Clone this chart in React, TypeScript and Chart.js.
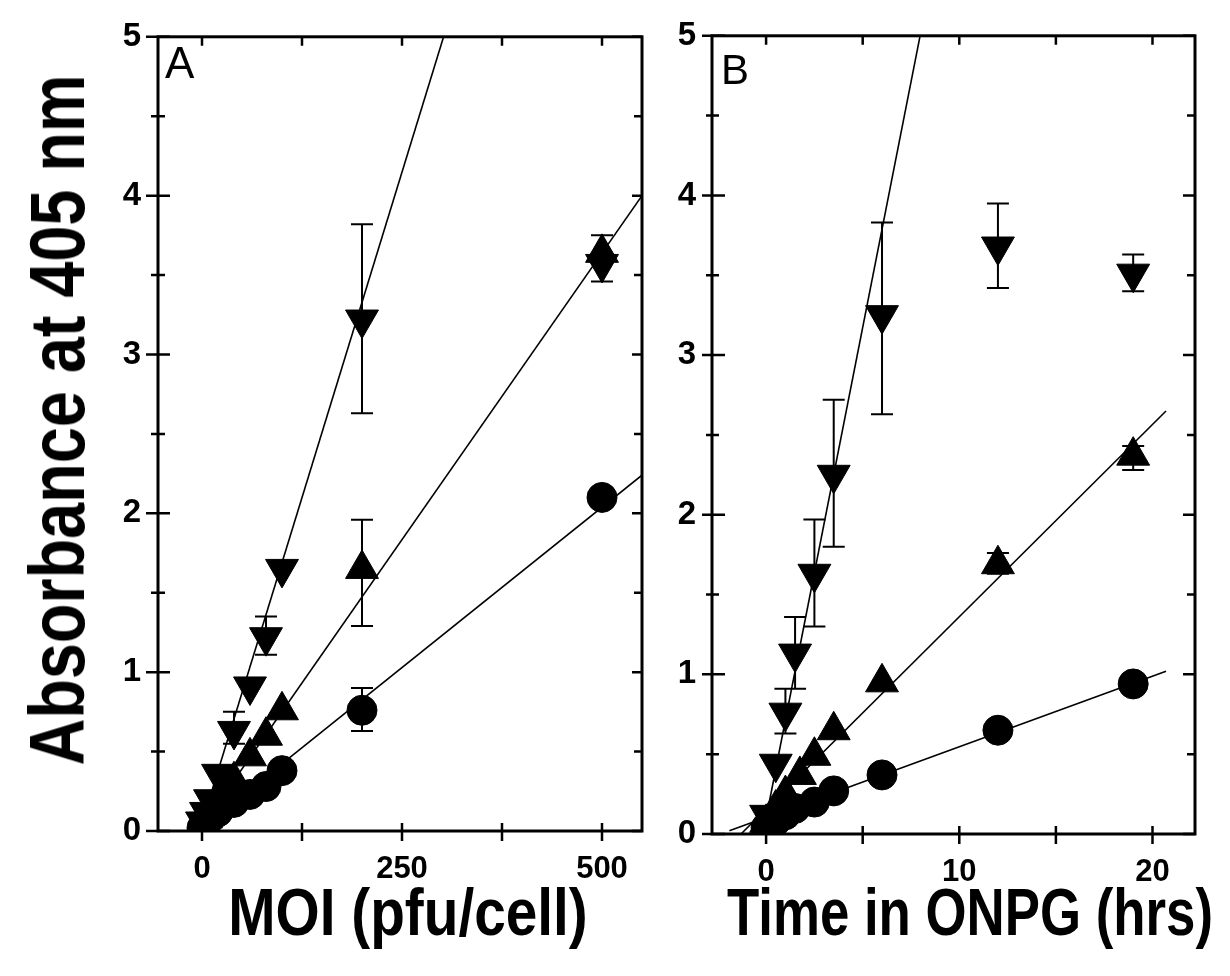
import React, { useEffect, useRef } from "react";
import { Chart, registerables } from "chart.js";

Chart.register(...registerables);

// ---------- Panel A : MOI (pfu/cell) ----------
const moiA = [0, 5, 10, 20, 40, 60, 80, 100, 200, 500];
const downA = [0.06, 0.12, 0.2, 0.36, 0.63, 0.91, 1.22, 1.65, 3.22, 3.57];
const upA = [0.04, 0.08, 0.12, 0.2, 0.32, 0.47, 0.6, 0.76, 1.65, 3.64];
const circleA = [0.02, 0.05, 0.08, 0.12, 0.18, 0.23, 0.28, 0.38, 0.76, 2.1];

const fitDownAx = [0, 302];
const fitDownAy = [0.05, 5];
const fitUpAx = [0, 550];
const fitUpAy = [0.03, 4.0];
const fitCircleAx = [0, 550];
const fitCircleAy = [0.02, 2.24];

const errAx = [40, 80, 200, 500, 200, 200];
const errAlo = [0.55, 1.11, 2.63, 3.46, 1.29, 0.63];
const errAhi = [0.75, 1.35, 3.82, 3.75, 1.96, 0.9];

const xTicksA = [0, 125, 250, 375, 500];
const xLabelsA = [0, 250, 500];

// ---------- Panel B : Time in ONPG (hrs) ----------
const timeDownB = [0, 0.5, 1, 1.5, 2.5, 3.5, 6, 12, 19];
const downB = [0.12, 0.44, 0.76, 1.13, 1.63, 2.25, 3.25, 3.68, 3.51];
const timeUpB = [0, 0.5, 1, 1.75, 2.5, 3.5, 6, 12, 19];
const upB = [0.07, 0.16, 0.25, 0.37, 0.49, 0.65, 0.95, 1.69, 2.37];
const timeCircleB = [0, 0.5, 1, 1.5, 2.5, 3.5, 6, 12, 19];
const circleB = [0.04, 0.08, 0.12, 0.16, 0.2, 0.27, 0.37, 0.65, 0.94];

const fitDownBx = [-0.16, 7.97];
const fitDownBy = [0, 5];
const fitUpBx = [-1.3, 20.7];
const fitUpBy = [0, 2.65];
const fitCircleBx = [-1.9, 20.7];
const fitCircleBy = [0.02, 1.02];

const errBx = [1, 1.5, 2.5, 3.5, 6, 12, 19, 19, 12];
const errBlo = [0.63, 0.91, 1.3, 1.8, 2.63, 3.42, 3.4, 2.28, 1.63];
const errBhi = [0.91, 1.36, 1.97, 2.72, 3.83, 3.95, 3.63, 2.43, 1.76];

const xTicksB = [0, 5, 10, 15, 20];
const xLabelsB = [0, 10, 20];

const yTicks = [0, 0.5, 1, 1.5, 2, 2.5, 3, 3.5, 4, 4.5, 5];
const yLabels = [0, 1, 2, 3, 4, 5];

const SANS = '"Liberation Sans", Arial, sans-serif';

const zip = (xs: number[], ys: number[]) => xs.map((x, i) => ({ x, y: ys[i] }));

const framePlugin = {
  id: "frame",
  afterDraw(chart: any, _a: any, o: any) {
    const { ctx, chartArea } = chart;
    const { left, right, top, bottom } = chartArea;
    const xs = chart.scales.x;
    const ys = chart.scales.y;
    ctx.save();
    ctx.strokeStyle = "#000";
    ctx.lineWidth = 3;
    ctx.strokeRect(left, top, right - left, bottom - top);
    ctx.lineWidth = 2.5;
    ctx.beginPath();
    for (const v of yTicks) {
      const py = ys.getPixelForValue(v);
      const major = yLabels.includes(v);
      const out = major ? o.yMajOut : o.yMinOut;
      const inn = major ? o.yMajIn : o.yMinIn;
      ctx.moveTo(left - out, py);
      ctx.lineTo(left + inn, py);
      const rin = major ? o.rMajIn : o.rMinIn;
      ctx.moveTo(right - rin, py);
      ctx.lineTo(right, py);
    }
    for (const t of xs.ticks) {
      const px = xs.getPixelForValue(t.value);
      ctx.moveTo(px, bottom + o.xOut);
      ctx.lineTo(px, bottom - o.xIn);
      ctx.moveTo(px, top);
      ctx.lineTo(px, top + o.tIn);
    }
    ctx.stroke();
    ctx.restore();
  },
};

const errPlugin = {
  id: "errbars",
  beforeDatasetsDraw(chart: any, _a: any, o: any) {
    const { ctx } = chart;
    const xs = chart.scales.x;
    const ys = chart.scales.y;
    const ex: number[] = o.x;
    ctx.save();
    ctx.strokeStyle = "#000";
    ctx.lineWidth = 2;
    ctx.beginPath();
    for (let i = 0; i < ex.length; i++) {
      const px = xs.getPixelForValue(ex[i]);
      const p1 = ys.getPixelForValue(o.lo[i]);
      const p2 = ys.getPixelForValue(o.hi[i]);
      ctx.moveTo(px, p1);
      ctx.lineTo(px, p2);
      ctx.moveTo(px - 11, p1);
      ctx.lineTo(px + 11, p1);
      ctx.moveTo(px - 11, p2);
      ctx.lineTo(px + 11, p2);
    }
    ctx.stroke();
    ctx.restore();
  },
};

function markerSet(data: any[], style: string, rot: number, r: number) {
  return {
    data,
    showLine: false,
    pointStyle: style,
    rotation: rot,
    pointRadius: r,
    pointHoverRadius: r,
    pointBackgroundColor: "#000",
    pointBorderColor: "#000",
    pointBorderWidth: 1,
  };
}

function lineSet(data: any[]) {
  return {
    data,
    showLine: true,
    pointRadius: 0,
    borderColor: "#000",
    borderWidth: 1.6,
    fill: false,
  };
}

function makeConfig(p: any) {
  return {
    type: "scatter",
    data: {
      datasets: [
        markerSet(p.down, "triangle", 180, 19),
        markerSet(p.up, "triangle", 0, 19),
        markerSet(p.circle, "circle", 0, 15),
        lineSet(p.fitDown),
        lineSet(p.fitUp),
        lineSet(p.fitCircle),
      ],
    },
    options: {
      animation: false,
      responsive: false,
      devicePixelRatio: 1,
      events: [],
      layout: { padding: { left: 0, top: p.padTop, right: p.padRight, bottom: 0 } },
      plugins: {
        legend: { display: false },
        tooltip: { enabled: false },
        frame: p.frame,
        errbars: p.err,
      },
      scales: {
        x: {
          type: "linear",
          min: p.xMin,
          max: p.xMax,
          grid: { display: false, drawTicks: false },
          border: { display: false },
          afterBuildTicks: (s: any) => {
            s.ticks = p.xTicks.map((v: number) => ({ value: v }));
          },
          afterFit: (s: any) => {
            s.height = p.xHeight;
          },
          ticks: {
            autoSkip: false,
            maxRotation: 0,
            padding: p.xPad,
            color: "#000",
            font: { family: SANS, size: 31, weight: "bold" },
            callback: (v: number) => (p.xLabels.includes(v) ? String(v) : ""),
          },
        },
        y: {
          type: "linear",
          min: 0,
          max: 5,
          grid: { display: false, drawTicks: false },
          border: { display: false },
          afterBuildTicks: (s: any) => {
            s.ticks = yTicks.map((v: number) => ({ value: v }));
          },
          afterFit: (s: any) => {
            s.width = p.yWidth;
          },
          ticks: {
            autoSkip: false,
            padding: p.yPad,
            color: "#000",
            font: { family: SANS, size: 33, weight: "bold" },
            callback: (v: number) => (yLabels.includes(v) ? String(v) : ""),
          },
        },
      },
    },
    plugins: [framePlugin, errPlugin],
  };
}

function Panel(props: { p: any; left: number; width: number }) {
  const ref = useRef<HTMLCanvasElement>(null);
  useEffect(() => {
    const chart = new Chart(ref.current as any, makeConfig(props.p) as any);
    return () => chart.destroy();
  }, []);
  return (
    <canvas
      ref={ref}
      width={props.width}
      height={976}
      style={{ position: "absolute", left: props.left, top: 0, width: props.width, height: 976 }}
    />
  );
}

const panelA = {
  down: zip(moiA, downA),
  up: zip(moiA, upA),
  circle: zip(moiA, circleA),
  fitDown: zip(fitDownAx, fitDownAy),
  fitUp: zip(fitUpAx, fitUpAy),
  fitCircle: zip(fitCircleAx, fitCircleAy),
  err: { x: errAx, lo: errAlo, hi: errAhi },
  xTicks: xTicksA,
  xLabels: xLabelsA,
  xMin: -55,
  xMax: 550,
  padTop: 21,
  padRight: 665 - 642,
  yWidth: 158,
  xHeight: 976 - 831,
  xPad: 20,
  yPad: 17,
  frame: { yMajOut: 12, yMajIn: 12, yMinOut: 7, yMinIn: 7, rMajIn: 10, rMinIn: 8, xOut: 10, xIn: 8, tIn: 9 },
};

const panelB = {
  down: zip(timeDownB, downB),
  up: zip(timeUpB, upB),
  circle: zip(timeCircleB, circleB),
  fitDown: zip(fitDownBx, fitDownBy),
  fitUp: zip(fitUpBx, fitUpBy),
  fitCircle: zip(fitCircleBx, fitCircleBy),
  err: { x: errBx, lo: errBlo, hi: errBhi },
  xTicks: xTicksB,
  xLabels: xLabelsB,
  xMin: -2.8,
  xMax: 22.2,
  padTop: 26,
  padRight: 1230 - 1195,
  yWidth: 712 - 665,
  xHeight: 976 - 834,
  xPad: 20,
  yPad: 16,
  frame: { yMajOut: 10, yMajIn: 13, yMinOut: 6, yMinIn: 7, rMajIn: 12, rMinIn: 8, xOut: 10, xIn: 8, tIn: 9 },
};

const titleStyle: React.CSSProperties = {
  position: "absolute",
  fontFamily: SANS,
  fontWeight: "bold",
  color: "#000",
  whiteSpace: "nowrap",
  lineHeight: 1,
};

export default function App() {
  return (
    <div style={{ position: "absolute", left: 0, top: 0, width: 1230, height: 976, background: "#fff", overflow: "hidden" }}>
      <Panel p={panelA} left={0} width={665} />
      <Panel p={panelB} left={665} width={565} />
      <div
        style={{
          ...titleStyle,
          fontSize: 78,
          left: 57,
          top: 420,
          transform: "translate(-50%, -50%) rotate(-90deg) scaleX(0.83)",
        }}
      >
        Absorbance at 405 nm
      </div>
      <div style={{ ...titleStyle, fontSize: 66, left: 408, top: 879, transform: "translateX(-50%) scaleX(0.86)" }}>
        MOI (pfu/cell)
      </div>
      <div style={{ ...titleStyle, fontSize: 66, left: 970, top: 879, transform: "translateX(-50%) scaleX(0.8)" }}>
        Time in ONPG (hrs)
      </div>
      <div style={{ position: "absolute", left: 165, top: 41, fontFamily: SANS, fontSize: 44, lineHeight: 1 }}>A</div>
      <div style={{ position: "absolute", left: 721, top: 49, fontFamily: SANS, fontSize: 42, lineHeight: 1 }}>B</div>
    </div>
  );
}
